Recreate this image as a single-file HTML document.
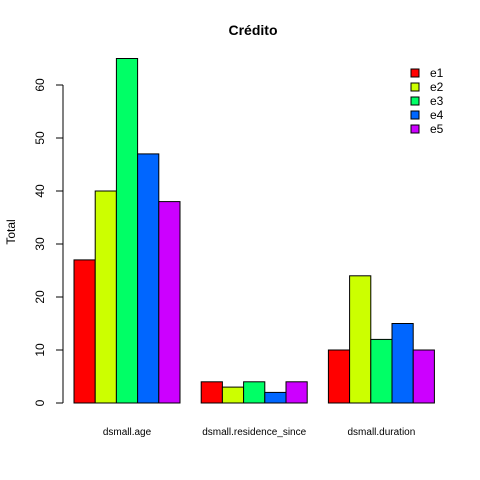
<!DOCTYPE html>
<html><head><meta charset="utf-8"><style>body{margin:0;background:#fff}svg{display:block;font-family:"Liberation Sans",sans-serif}</style></head>
<body>
<svg id="c" width="480" height="480">
<text x="253" y="35" text-anchor="middle" font-weight="bold" font-size="14">Crédito</text>
<text transform="translate(15,232) rotate(-90)" text-anchor="middle" font-size="12">Total</text>
</svg>
<script>
const categories=["dsmall.age","dsmall.residence_since","dsmall.duration"];
const seriesNames=["e1","e2","e3","e4","e5"];
const e1=[27,4,10];
const e2=[40,3,24];
const e3=[65,4,12];
const e4=[47,2,15];
const e5=[38,4,10];
const yTicks=[0,10,20,30,40,50,60];
const series=[e1,e2,e3,e4,e5];
const colors=["#FF0000","#CCFF00","#00FF66","#0066FF","#CC00FF"];
const svg=document.getElementById('c');const NS="http://www.w3.org/2000/svg";
const y0=403,ppu=5.3,bw=21.2,x0=74;
const Y=v=>y0-v*ppu;
function mk(t,a){const e=document.createElementNS(NS,t);for(const k in a)e.setAttribute(k,a[k]);svg.appendChild(e);return e;}
categories.forEach((c,g)=>{
 series.forEach((s,i)=>{
  const r=mk('rect',{x:x0+(g*6+i)*bw,y:Y(s[g]),width:bw,height:s[g]*ppu,fill:colors[i],stroke:'#000','stroke-width':1});
  
  
 });
 const t=mk('text',{x:x0+(g*6+2.5)*bw,y:435,'text-anchor':'middle','font-size':10});
 t.textContent=c;
 
 
});
const ax=mk('line',{x1:63,x2:63,y1:Y(yTicks[0]),y2:Y(yTicks[yTicks.length-1]),stroke:'#000'});


yTicks.forEach(v=>{
 const l=mk('line',{x1:56,x2:63,y1:Y(v),y2:Y(v),stroke:'#000'});
 
 
 const t=mk('text',{transform:`translate(44,${Y(v)}) rotate(-90)`,'text-anchor':'middle','font-size':12});
 t.textContent=v;
 
 
});
seriesNames.forEach((n,i)=>{
 const y=73+i*14;
 const r=mk('rect',{x:411,y:y-4,width:8,height:8,fill:colors[i],stroke:'#000','stroke-width':1});
 
 
 const t=mk('text',{x:430,y:y+4,'font-size':12});
 t.textContent=n;
 
 
});
</script>
</body></html>
